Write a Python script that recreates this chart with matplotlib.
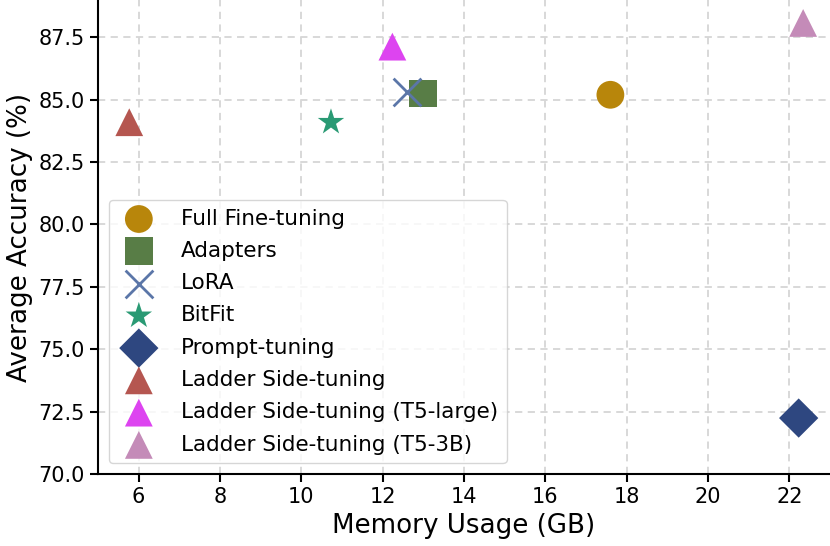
import numpy as np
from matplotlib import pyplot as plt

# metodos y sus valores (memoria GB, exactitud %)
metodos = ["Full Fine-tuning", "Adapters", "LoRA", "BitFit", "Prompt-tuning",
           "Ladder Side-tuning", "Ladder Side-tuning (T5-large)", "Ladder Side-tuning (T5-3B)"]
memoria = [17.6, 13.0, 12.6, 10.73, 22.23, 5.77, 12.24, 22.34]
exactitud = [85.2, 85.25, 85.33, 84.1, 72.24, 84.1, 87.13, 88.08]

marcadores = ['o', 's', 'x', '*', 'D', '^', '^', '^']
colores = ['#B8860B', '#587D46', '#5B76A8', '#2A9A74', '#2E4780',
           '#B55650', '#DD44F0', '#C48BB8']

fig = plt.figure(figsize=(8.3, 5.46), dpi=100)
ax = fig.add_axes([0.118, 0.132, 0.882, 0.868])

for i in range(len(metodos)):
    if marcadores[i] == 'x':
        ax.scatter(memoria[i], exactitud[i], s=400, marker='x', color=colores[i],
                   linewidths=2, label=metodos[i], zorder=3)
    else:
        ax.scatter(memoria[i], exactitud[i], s=400, marker=marcadores[i], color=colores[i],
                   edgecolors='none', label=metodos[i], zorder=3)

ax.set_xlim(5, 23)
ax.set_ylim(70, 89)
ax.set_xticks([6, 8, 10, 12, 14, 16, 18, 20, 22])
ax.set_yticks([70.0, 72.5, 75.0, 77.5, 80.0, 82.5, 85.0, 87.5])
ax.grid(True, linestyle=(0, (4, 3)), color='#d6d6d6', linewidth=1.3)
ax.set_axisbelow(True)

ax.spines['top'].set_visible(False)
ax.spines['right'].set_visible(False)
ax.spines['left'].set_linewidth(1.5)
ax.spines['bottom'].set_linewidth(1.5)
ax.tick_params(labelsize=15, width=1.5, length=6)

ax.set_xlabel("Memory Usage (GB)", fontsize=18.8)
ax.set_ylabel("Average Accuracy (%)", fontsize=18.8)

ax.legend(loc='lower left', fontsize=15.5, scatterpoints=1, handletextpad=0.95,
          handlelength=2.0, labelspacing=0.57)

plt.savefig('out.png', dpi=100)
